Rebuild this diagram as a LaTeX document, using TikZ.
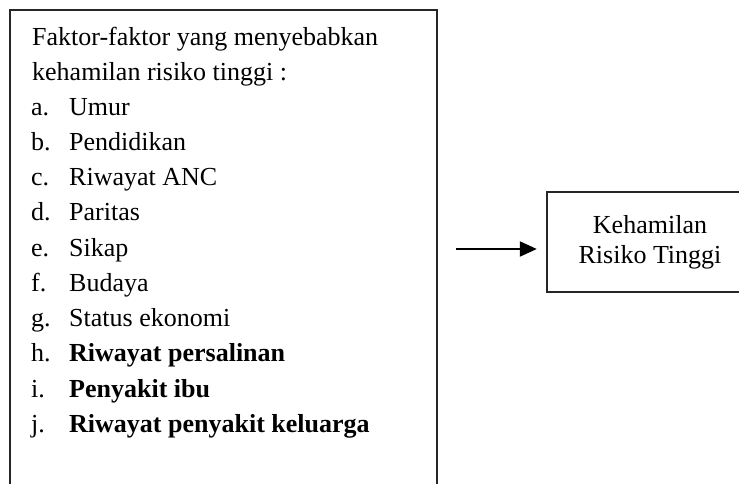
\documentclass[tikz,border=0pt]{standalone}
\usepackage{fontspec}
\setmainfont{Liberation Serif}
\usetikzlibrary{arrows.meta}
\begin{document}
\begin{tikzpicture}[x=1pt,y=-1pt,
  txt/.style={anchor=base west,inner sep=0pt,font=\fontsize{26}{31}\selectfont},
  boxline/.style={draw=black!85,line width=1.5pt},
  conn/.style={line width=2pt,-{Triangle[length=17pt,width=15pt]}}]
\useasboundingbox (0,0) rectangle (739,483);
% left box (open at the bottom of the picture)
\draw[boxline] (10,500) -- (10,10) -- (437,10) -- (437,500);
\node[txt] (t1) at (32,45) {Faktor-faktor yang menyebabkan};
\node[txt] (t2) at (32,80) {kehamilan risiko tinggi :};
\foreach \l/\t/\y [count=\i] in {a./Umur/115, b./Pendidikan/150, c./Riwayat ANC/185, d./Paritas/220, e./Sikap/256, f./Budaya/291, g./Status ekonomi/326}{
  \node[txt] (l\i) at (31,\y) {\l};
  \node[txt] (i\i) at (69,\y) {\t};
}
\node[txt] (l8) at (31,361) {h.};
\node[txt] (i8) at (69,361) {\textbf{Riwayat persalinan}};
\node[txt] (l9) at (31,397) {i.};
\node[txt] (i9) at (69,397) {\textbf{Penyakit ibu}};
\node[txt] (l10) at (31,432) {j.};
\node[txt] (i10) at (69,432) {\textbf{Riwayat penyakit keluarga}};
% right box
\draw[boxline] (760,192) -- (547,192) -- (547,292) -- (760,292);
\node[inner sep=0pt,minimum width=191pt,minimum height=100pt] (risk) at (642.5,242) {};
\node[anchor=base,inner sep=0pt,font=\fontsize{26}{31}\selectfont] (k1) at (650,233) {Kehamilan};
\node[anchor=base,inner sep=0pt,font=\fontsize{26}{31}\selectfont] (k2) at (650,263) {Risiko Tinggi};
\coordinate (astart) at (456,249);
\draw[conn,shorten >=10pt] (astart) -- (risk.west |- astart);
\end{tikzpicture}
\end{document}
